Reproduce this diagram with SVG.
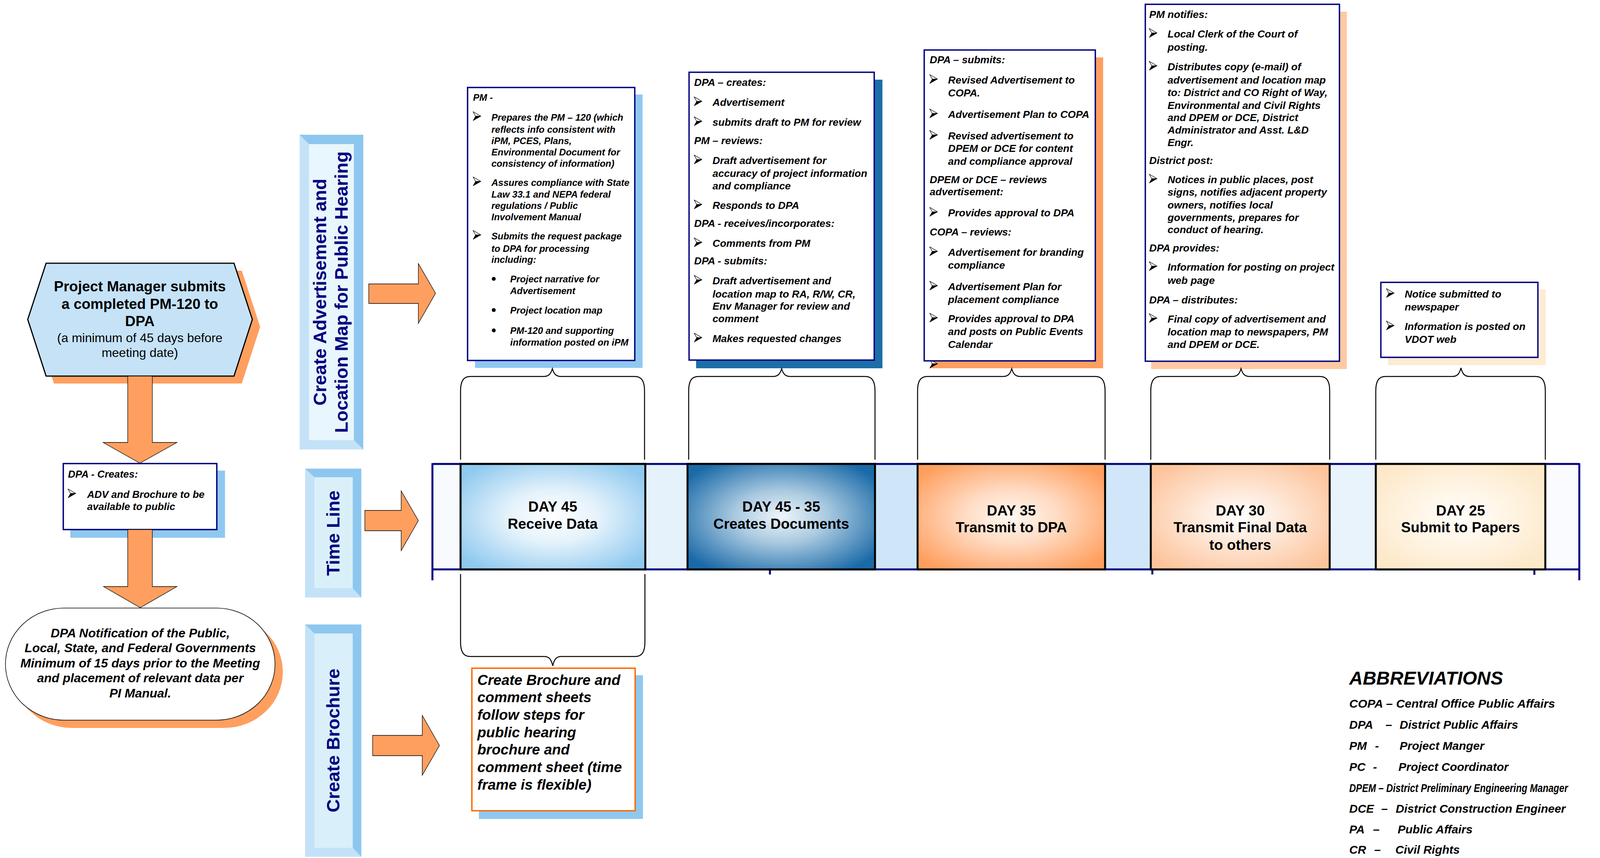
<svg xmlns="http://www.w3.org/2000/svg" width="4312" height="2197" viewBox="0 0 4312 2197">
<style>
.bi{font-family:"Liberation Sans",Arial,sans-serif;font-weight:bold;font-style:italic;fill:#000}
.b{font-family:"Liberation Sans",Arial,sans-serif;font-weight:bold;fill:#000}
.r{font-family:"Liberation Sans",Arial,sans-serif;font-weight:normal;fill:#000}
.t24{font-size:24px}
.t26{font-size:26.5px}
.ab{font-size:30px}
.box{fill:#fff;stroke:#000080;stroke-width:3.5}
.brace{fill:none;stroke:#000;stroke-width:2.5}
.arr{fill:#ff9f5f;stroke:#000;stroke-width:1.3}
.day{stroke:#000;stroke-width:5}
.navy{fill:none;stroke:#000080;stroke-width:5}
.vl{font-family:"Liberation Sans",Arial,sans-serif;font-weight:bold;font-size:47px;fill:#000080;text-anchor:middle}
.dk{fill:#8dc7ef}
.lt{fill:#c4e2f7}
.mid{text-anchor:middle}
</style>
<defs>
<g id="ba"><path d="M0,-23 L20,-11.5 L6.5,-11.5 Z" fill="#fff" stroke="#000" stroke-width="1.3" stroke-linejoin="round"/><path d="M0,0 L20,-11.5 L6.5,-11.5 Z" fill="#000" stroke="#000" stroke-width="1"/></g>
<radialGradient id="g1" cx="0.5" cy="0.5" r="0.62"><stop offset="0" stop-color="#ffffff"/><stop offset="0.4" stop-color="#e4f2fb"/><stop offset="1" stop-color="#8fc9ef"/></radialGradient>
<radialGradient id="g2" cx="0.5" cy="0.5" r="0.62"><stop offset="0" stop-color="#eef5fa"/><stop offset="0.4" stop-color="#a9c9e0"/><stop offset="1" stop-color="#1a6aa8"/></radialGradient>
<radialGradient id="g3" cx="0.5" cy="0.5" r="0.62"><stop offset="0" stop-color="#fff8f2"/><stop offset="0.4" stop-color="#ffdcc4"/><stop offset="1" stop-color="#ff9f5f"/></radialGradient>
<radialGradient id="g4" cx="0.5" cy="0.5" r="0.62"><stop offset="0" stop-color="#ffffff"/><stop offset="0.4" stop-color="#fee8d8"/><stop offset="1" stop-color="#fdc49c"/></radialGradient>
<radialGradient id="g5" cx="0.5" cy="0.5" r="0.62"><stop offset="0" stop-color="#fffdf9"/><stop offset="0.4" stop-color="#fff6e8"/><stop offset="1" stop-color="#fde8c8"/></radialGradient>
</defs>
<rect width="4312" height="2197" fill="#fff"/>

<!-- left column -->
<g id="start">
<polygon transform="translate(20,19)" points="71,818 118,674 599,674 646,818 599,963 118,963" fill="#ff9f5f"/>
<polygon points="71,818 118,674 599,674 646,818 599,963 118,963" fill="#c5e2f7" stroke="#000" stroke-width="3"/>
<text class="b mid" font-size="37"><tspan x="358" y="746">Project Manager submits</tspan><tspan x="358" y="791">a completed PM-120 to</tspan><tspan x="358" y="835">DPA</tspan></text>
<text class="r mid" font-size="32"><tspan x="358" y="876">(a minimum of 45 days before</tspan><tspan x="358" y="914">meeting date)</tspan></text>
</g>

<g id="dpa-creates-left">
<rect x="180" y="1205" width="396" height="172" fill="#8fc8ef"/>
<rect class="box" x="162" y="1187" width="393" height="169"/>
<text class="bi" font-size="26"><tspan x="174" y="1223">DPA - Creates:</tspan><tspan x="223" y="1275">ADV and Brochure to be</tspan><tspan x="223" y="1306">available to public</tspan></text>
<use href="#ba" x="174" y="1275"/>
</g>

<g id="dpa-notification">
<rect x="34" y="1577" width="690" height="287" rx="150" ry="143" fill="#ff9f5f"/>
<rect x="14" y="1557" width="690" height="287" rx="150" ry="143" fill="#fff" stroke="#000" stroke-width="1.5"/>
<text class="bi mid" font-size="32"><tspan x="359" y="1632">DPA Notification of the Public,</tspan><tspan x="359" y="1670">Local, State, and Federal Governments</tspan><tspan x="359" y="1709">Minimum of 15 days prior to the Meeting</tspan><tspan x="359" y="1747">and placement of relevant data per</tspan><tspan x="359" y="1786">PI Manual.</tspan></text>
</g>

<!-- vertical labels -->
<g id="label-adv">
<rect class="lt" x="767" y="345" width="163" height="806"/>
<polygon class="dk" points="767,345 930,345 930,1151 906,1127 906,369 791,369"/>
<rect x="791" y="369" width="115" height="758" fill="#e8f6fd"/>
<text class="vl" transform="rotate(-90 835 748)" x="835" y="748">Create Advertisement and</text>
<text class="vl" transform="rotate(-90 890 748)" x="890" y="748">Location Map for Public Hearing</text>
</g>
<g id="label-timeline">
<rect class="lt" x="781" y="1200" width="144" height="330"/>
<polygon class="dk" points="781,1200 925,1200 925,1530 903,1506 903,1222 805,1222"/>
<rect x="805" y="1222" width="98" height="284" fill="#daf0f9"/>
<text class="vl" transform="rotate(-90 869 1365)" x="869" y="1365">Time Line</text>
</g>
<g id="label-brochure">
<rect class="lt" x="781" y="1599" width="144" height="595"/>
<polygon class="dk" points="781,1599 925,1599 925,2194 903,2171 903,1622 805,1622"/>
<rect x="805" y="1622" width="98" height="549" fill="#d9eff9"/>
<text class="vl" transform="rotate(-90 869 1896)" x="869" y="1896">Create Brochure</text>
</g>

<!-- top boxes -->
<g id="pm-box">
<rect x="1216" y="242" width="429" height="700" fill="#8fc8ef"/>
<rect class="box" x="1197" y="224" width="428" height="699"/>
<text class="bi t24">
<tspan x="1211" y="258">PM -</tspan>
<tspan x="1258" y="309">Prepares the PM – 120 (which</tspan>
<tspan x="1258" y="340">reflects info consistent with</tspan>
<tspan x="1258" y="369">iPM, PCES, Plans,</tspan>
<tspan x="1258" y="398">Environmental Document for</tspan>
<tspan x="1258" y="427">consistency of information)</tspan>
<tspan x="1258" y="476">Assures compliance with State</tspan>
<tspan x="1258" y="506">Law 33.1 and NEPA federal</tspan>
<tspan x="1258" y="535">regulations / Public</tspan>
<tspan x="1258" y="564">Involvement Manual</tspan>
<tspan x="1258" y="613">Submits the request package</tspan>
<tspan x="1258" y="645">to DPA for processing</tspan>
<tspan x="1258" y="673">including:</tspan>
<tspan x="1306" y="723">Project narrative for</tspan>
<tspan x="1306" y="753">Advertisement</tspan>
<tspan x="1306" y="803">Project location map</tspan>
<tspan x="1306" y="855">PM-120 and supporting</tspan>
<tspan x="1306" y="885">information posted on iPM</tspan>
</text>
<use href="#ba" x="1211" y="309"/>
<use href="#ba" x="1211" y="476"/>
<use href="#ba" x="1211" y="613"/>
<circle cx="1264" cy="714" r="5"/>
<circle cx="1264" cy="794" r="5"/>
<circle cx="1264" cy="846" r="5"/>
</g>

<g id="dpa-creates-box">
<rect x="1782" y="204" width="477" height="739" fill="#1c6ea8"/>
<rect class="box" x="1764" y="185" width="474" height="737"/>
<text class="bi t26">
<tspan x="1777" y="220">DPA – creates:</tspan>
<tspan x="1824" y="271">Advertisement</tspan>
<tspan x="1824" y="322">submits draft to PM for review</tspan>
<tspan x="1777" y="369">PM – reviews:</tspan>
<tspan x="1824" y="420">Draft advertisement  for</tspan>
<tspan x="1824" y="453">accuracy of project information</tspan>
<tspan x="1824" y="485">and compliance</tspan>
<tspan x="1824" y="535">Responds to DPA</tspan>
<tspan x="1777" y="581">DPA - receives/incorporates:</tspan>
<tspan x="1824" y="632">Comments from PM</tspan>
<tspan x="1777" y="677">DPA - submits:</tspan>
<tspan x="1824" y="728">Draft advertisement and</tspan>
<tspan x="1824" y="762">location map to RA, R/W, CR,</tspan>
<tspan x="1824" y="793">Env  Manager for review and</tspan>
<tspan x="1824" y="825">comment</tspan>
<tspan x="1824" y="876">Makes requested changes</tspan>
</text>
<use href="#ba" x="1777" y="271"/>
<use href="#ba" x="1777" y="322"/>
<use href="#ba" x="1777" y="420"/>
<use href="#ba" x="1777" y="535"/>
<use href="#ba" x="1777" y="632"/>
<use href="#ba" x="1777" y="728"/>
<use href="#ba" x="1777" y="876"/>
</g>

<g id="dpa-submits-box">
<rect x="2385" y="147" width="439" height="796" fill="#ff9f5f"/>
<use href="#ba" x="2380" y="943"/>
<rect class="box" x="2366" y="128" width="438" height="796"/>
<text class="bi t26">
<tspan x="2380" y="162">DPA – submits:</tspan>
<tspan x="2427" y="214">Revised Advertisement to</tspan>
<tspan x="2427" y="247">COPA.</tspan>
<tspan x="2427" y="302">Advertisement Plan to COPA</tspan>
<tspan x="2427" y="357">Revised advertisement to</tspan>
<tspan x="2427" y="389">DPEM or DCE for content</tspan>
<tspan x="2427" y="422">and compliance approval</tspan>
<tspan x="2380" y="469">DPEM or DCE – reviews</tspan>
<tspan x="2380" y="500">advertisement:</tspan>
<tspan x="2427" y="554">Provides approval to DPA</tspan>
<tspan x="2380" y="603">COPA – reviews:</tspan>
<tspan x="2427" y="655">Advertisement for branding</tspan>
<tspan x="2427" y="688">compliance</tspan>
<tspan x="2427" y="743">Advertisement Plan for</tspan>
<tspan x="2427" y="776">placement compliance</tspan>
<tspan x="2427" y="825">Provides approval to DPA</tspan>
<tspan x="2427" y="858">and posts on Public Events</tspan>
<tspan x="2427" y="891">Calendar</tspan>
</text>
<use href="#ba" x="2380" y="214"/>
<use href="#ba" x="2380" y="302"/>
<use href="#ba" x="2380" y="357"/>
<use href="#ba" x="2380" y="554"/>
<use href="#ba" x="2380" y="655"/>
<use href="#ba" x="2380" y="743"/>
<use href="#ba" x="2380" y="825"/>
</g>

<g id="pm-notifies-box">
<rect x="2947" y="30" width="501" height="915" fill="#fdc9a3"/>
<rect class="box" x="2932" y="11" width="497" height="914"/>
<text class="bi t26">
<tspan x="2942" y="46">PM notifies:</tspan>
<tspan x="2989" y="96">Local Clerk of the Court of</tspan>
<tspan x="2989" y="130">posting.</tspan>
<tspan x="2989" y="180">Distributes copy (e-mail) of</tspan>
<tspan x="2989" y="214">advertisement and location map</tspan>
<tspan x="2989" y="246">to: District and CO Right of Way,</tspan>
<tspan x="2989" y="279">Environmental and Civil Rights</tspan>
<tspan x="2989" y="310">and DPEM or DCE, District</tspan>
<tspan x="2989" y="342">Administrator and Asst. L&amp;D</tspan>
<tspan x="2989" y="374">Engr.</tspan>
<tspan x="2942" y="420">District  post:</tspan>
<tspan x="2989" y="469">Notices in public places, post</tspan>
<tspan x="2989" y="501">signs, notifies adjacent property</tspan>
<tspan x="2989" y="534">owners, notifies local</tspan>
<tspan x="2989" y="566">governments, prepares for</tspan>
<tspan x="2989" y="597">conduct of hearing.</tspan>
<tspan x="2942" y="644">DPA provides:</tspan>
<tspan x="2989" y="693">Information for posting on project</tspan>
<tspan x="2989" y="727">web page</tspan>
<tspan x="2942" y="777">DPA – distributes:</tspan>
<tspan x="2989" y="826">Final copy of advertisement and</tspan>
<tspan x="2989" y="859">location map to newspapers, PM</tspan>
<tspan x="2989" y="891">and DPEM or DCE.</tspan>
</text>
<use href="#ba" x="2942" y="96"/>
<use href="#ba" x="2942" y="180"/>
<use href="#ba" x="2942" y="469"/>
<use href="#ba" x="2942" y="693"/>
<use href="#ba" x="2942" y="826"/>
</g>

<g id="notice-box">
<rect x="3553" y="741" width="404" height="194" fill="#fdebd3"/>
<rect class="box" x="3535" y="723" width="402" height="192"/>
<text class="bi t26">
<tspan x="3596" y="762">Notice submitted to</tspan>
<tspan x="3596" y="795">newspaper</tspan>
<tspan x="3596" y="845">Information is posted on</tspan>
<tspan x="3596" y="878">VDOT web</tspan>
</text>
<use href="#ba" x="3549" y="762"/>
<use href="#ba" x="3549" y="845"/>
</g>

<!-- timeline -->
<g id="timeline">
<rect x="1107" y="1188" width="72" height="270" fill="#f7fbfe"/>
<rect x="1652" y="1188" width="108" height="270" fill="#e6f2fb"/>
<rect x="2240" y="1188" width="109" height="270" fill="#cfe6f8"/>
<rect x="2829" y="1188" width="117" height="270" fill="#d1e7f9"/>
<rect x="3404" y="1188" width="118" height="270" fill="#e8f3fc"/>
<rect x="3956" y="1188" width="87" height="270" fill="#f9fbfe"/>
<path class="navy" d="M1107,1188 H4043 M1107,1458 H4043 M1107,1186 V1486 M4043,1186 V1486 M1971,1458 V1471 M2950,1458 V1471 M3928,1458 V1472"/>
</g>
<g id="day45">
<rect class="day" x="1179" y="1188" width="473" height="270" fill="url(#g1)"/>
<text class="b mid" font-size="37"><tspan x="1415" y="1310">DAY 45</tspan><tspan x="1415" y="1354">Receive Data</tspan></text>
</g>
<g id="day45-35">
<rect class="day" x="1760" y="1188" width="480" height="270" fill="url(#g2)"/>
<text class="b mid" font-size="37"><tspan x="2000" y="1310">DAY 45 - 35</tspan><tspan x="2000" y="1354">Creates Documents</tspan></text>
</g>
<g id="day35">
<rect class="day" x="2349" y="1188" width="480" height="270" fill="url(#g3)"/>
<text class="b mid" font-size="37"><tspan x="2589" y="1320">DAY 35</tspan><tspan x="2589" y="1363">Transmit to DPA</tspan></text>
</g>
<g id="day30">
<rect class="day" x="2946" y="1188" width="458" height="270" fill="url(#g4)"/>
<text class="b mid" font-size="37"><tspan x="3175" y="1320">DAY 30</tspan><tspan x="3175" y="1363">Transmit Final Data</tspan><tspan x="3175" y="1408">to others</tspan></text>
</g>
<g id="day25">
<rect class="day" x="3522" y="1188" width="434" height="270" fill="url(#g5)"/>
<text class="b mid" font-size="37"><tspan x="3739" y="1320">DAY 25</tspan><tspan x="3739" y="1363">Submit to Papers</tspan></text>
</g>

<g id="brochure-box">
<rect x="1226" y="1729" width="420" height="368" fill="#8fc8ef"/>
<rect x="1208" y="1711" width="418" height="365" fill="#fff" stroke="#ff6600" stroke-width="3.5"/>
<text class="bi" font-size="37">
<tspan x="1222" y="1754">Create Brochure and</tspan>
<tspan x="1222" y="1798">comment sheets</tspan>
<tspan x="1222" y="1843">follow steps for</tspan>
<tspan x="1222" y="1888">public hearing</tspan>
<tspan x="1222" y="1932">brochure and</tspan>
<tspan x="1222" y="1977">comment sheet (time</tspan>
<tspan x="1222" y="2022">frame is flexible)</tspan>
</text>
</g>

<g id="abbreviations">
<text class="bi" font-size="48" x="3454" y="1753">ABBREVIATIONS</text>
<text class="bi ab" x="3454" y="1812" textLength="527" lengthAdjust="spacingAndGlyphs">COPA – Central Office Public Affairs</text>
<text class="bi ab"><tspan x="3454" y="1866">DPA</tspan><tspan x="3547" y="1866">–</tspan><tspan x="3583" y="1866">District Public Affairs</tspan></text>
<text class="bi ab"><tspan x="3454" y="1920">PM</tspan><tspan x="3520" y="1920">-</tspan><tspan x="3583" y="1920">Project Manger</tspan></text>
<text class="bi ab"><tspan x="3454" y="1974">PC</tspan><tspan x="3515" y="1974">-</tspan><tspan x="3580" y="1974">Project Coordinator</tspan></text>
<text class="bi ab" x="3454" y="2028" textLength="560" lengthAdjust="spacingAndGlyphs">DPEM – District Preliminary Engineering Manager</text>
<text class="bi ab"><tspan x="3454" y="2081">DCE</tspan><tspan x="3536" y="2081">–</tspan></text>
<text class="bi ab" x="3573" y="2081" textLength="435" lengthAdjust="spacingAndGlyphs">District Construction Engineer</text>
<text class="bi ab"><tspan x="3454" y="2134">PA</tspan><tspan x="3515" y="2134">–</tspan><tspan x="3578" y="2134">Public Affairs</tspan></text>
<text class="bi ab"><tspan x="3454" y="2186">CR</tspan><tspan x="3518" y="2186">–</tspan><tspan x="3572" y="2186">Civil Rights</tspan></text>
</g>

<!-- connectors -->
<g id="connectors">
<polygon class="arr" points="327,963 390,963 390,1133 453,1133 358,1186 264,1133 327,1133"/>
<polygon class="arr" points="327,1356 390,1356 390,1502 453,1502 359,1556 265,1502 327,1502"/>
<polygon class="arr" points="944,727 1071,727 1071,675 1115,751 1071,828 1071,777 944,777"/>
<polygon class="arr" points="934,1307 1027,1307 1027,1257 1071,1333 1027,1410 1027,1359 934,1359"/>
<polygon class="arr" points="954,1883 1081,1883 1081,1832 1125,1909 1081,1985 1081,1935 954,1935"/>
<path class="brace" d="M1179,1177 V1001 C1179,975 1187,964 1204,964 H1392 C1404,964 1410,958 1414,944 C1418,958 1424,964 1436,964 H1625 C1642,964 1650,975 1650,1001 V1177"/>
<path class="brace" d="M1763,1177 V1001 C1763,975 1771,964 1788,964 H1979 C1991,964 1997,958 2001,944 C2005,958 2011,964 2023,964 H2215 C2232,964 2240,975 2240,1001 V1177"/>
<path class="brace" d="M2349,1177 V1001 C2349,975 2357,964 2374,964 H2568 C2580,964 2586,958 2590,944 C2594,958 2600,964 2612,964 H2804 C2821,964 2829,975 2829,1001 V1177"/>
<path class="brace" d="M2946,1177 V1001 C2946,975 2954,964 2971,964 H3155 C3167,964 3173,958 3177,944 C3181,958 3187,964 3199,964 H3379 C3396,964 3404,975 3404,1001 V1177"/>
<path class="brace" d="M3522,1177 V1001 C3522,975 3530,964 3547,964 H3718 C3730,964 3736,958 3740,942 C3744,958 3750,964 3762,964 H3931 C3948,964 3956,975 3956,1001 V1177"/>
<path class="brace" d="M1179,1470 V1644 C1179,1670 1187,1681 1204,1681 H1393 C1405,1681 1411,1687 1415,1705 C1419,1687 1425,1681 1437,1681 H1626 C1643,1681 1651,1670 1651,1644 V1470"/>
</g>
</svg>
